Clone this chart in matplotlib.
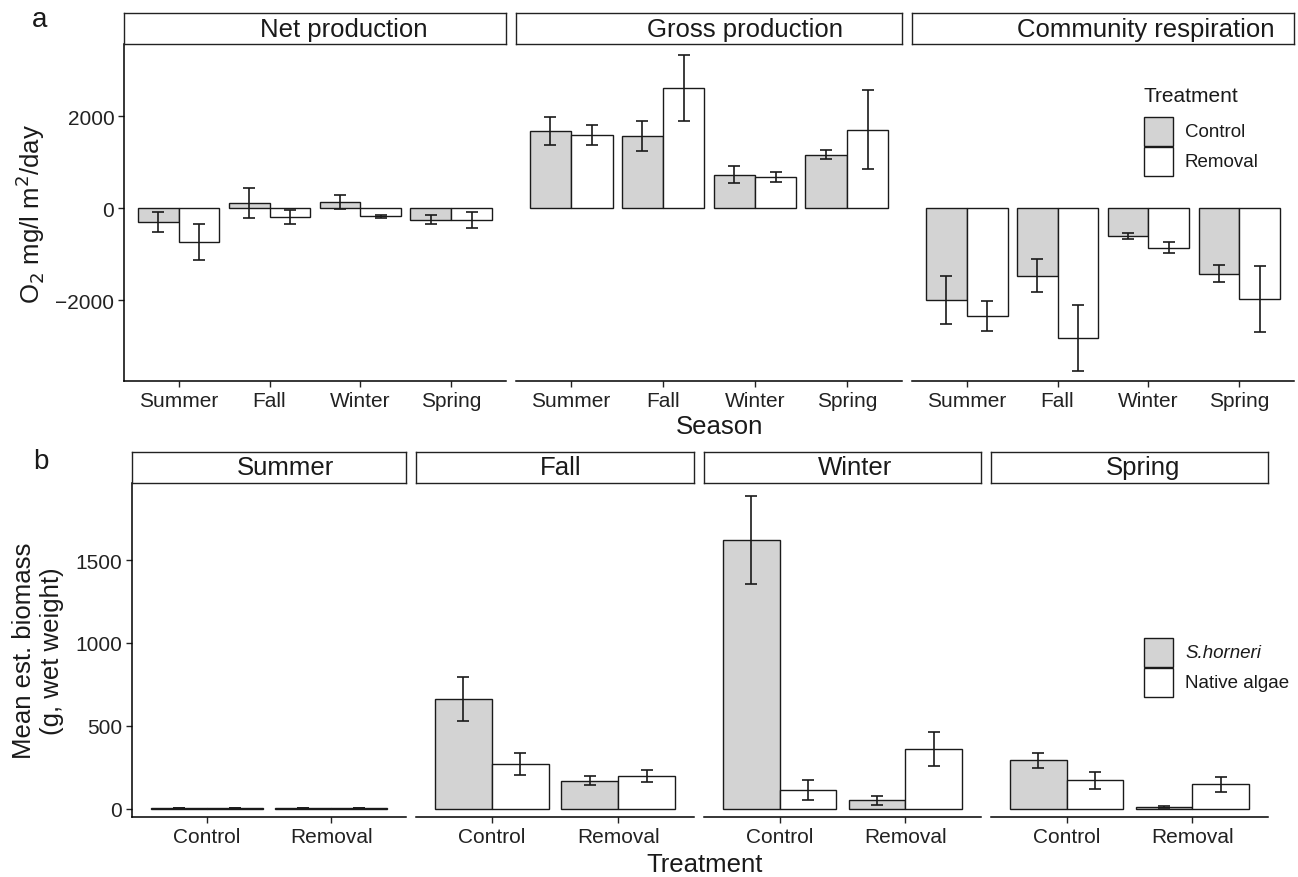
import matplotlib

matplotlib.use("Agg")
import matplotlib.pyplot as plt
from matplotlib.patches import Rectangle

plt.rcParams["font.family"] = ["Liberation Sans", "DejaVu Sans"]

# ---- panel a: oxygen metabolism by season ----
seasons = ["Summer", "Fall", "Winter", "Spring"]
metrics = ["Net production", "Gross production", "Community respiration"]
treatments = ["Control", "Removal"]

net_control = [-304, 109, 138, -254]
net_control_se = [217, 333, 152, 100]
net_removal = [-746, -196, -181, -261]
net_removal_se = [391, 149, 30, 177]

gross_control = [1681, 1572, 732, 1167]
gross_control_se = [308, 326, 185, 105]
gross_removal = [1602, 2616, 674, 1710]
gross_removal_se = [218, 721, 106, 859]

resp_control = [-1993, -1471, -609, -1428]
resp_control_se = [522, 362, 69, 188]
resp_removal = [-2355, -2819, -862, -1978]
resp_removal_se = [326, 721, 123, 710]

# ---- panel b: biomass by treatment within season ----
groups = ["Control", "Removal"]
algae = ["S.horneri", "Native algae"]
horneri = {"Summer": [3, 3], "Fall": [662, 168], "Winter": [1620, 51], "Spring": [292, 8]}
horneri_se = {"Summer": [1, 1], "Fall": [133, 27], "Winter": [266, 27], "Spring": [45, 6]}
native = {"Summer": [4, 4], "Fall": [270, 198], "Winter": [113, 360], "Spring": [171, 147]}
native_se = {"Summer": [1, 1], "Fall": [66, 37], "Winter": [62, 105], "Spring": [51, 45]}

GREY = "#d3d3d3"
W, H = 1298, 878
fig = plt.figure(figsize=(W / 100, H / 100), dpi=100)


def px_axes(l, t, r, b):
    return fig.add_axes([l / W, 1 - b / H, (r - l) / W, (b - t) / H])


def strip(l, t, r, b, label, tx):
    s = px_axes(l, t, r, b)
    s.set_xticks([])
    s.set_yticks([])
    for sp in s.spines.values():
        sp.set_linewidth(1.0)
        sp.set_color("#222222")
    s.text(tx, 0.5, label, ha="center", va="center", fontsize=18.5, color="#1a1a1a",
           transform=s.transAxes)


def style_panel(ax, first):
    for side in ("top", "right"):
        ax.spines[side].set_visible(False)
    ax.spines["bottom"].set_linewidth(1.1)
    ax.spines["left"].set_linewidth(1.1)
    ax.tick_params(axis="x", length=4, width=1.0, labelsize=15, colors="#222222", pad=3)
    ax.tick_params(axis="y", length=4, width=1.0, labelsize=15, colors="#222222", pad=3)
    if not first:
        ax.spines["left"].set_visible(False)
        ax.tick_params(axis="y", left=False, labelleft=False)


def dodge_bars(ax, x, v1, e1, v2, e2):
    w = 0.45
    xs1 = [i - w / 2 for i in x]
    xs2 = [i + w / 2 for i in x]
    ax.bar(xs1, v1, width=w, color=GREY, edgecolor="#1a1a1a", linewidth=1.0, zorder=2)
    ax.bar(xs2, v2, width=w, color="white", edgecolor="#1a1a1a", linewidth=1.0, zorder=2)
    ax.errorbar(xs1, v1, yerr=e1, fmt="none", ecolor="#1a1a1a", elinewidth=1.2,
                capsize=4.5, capthick=1.2, zorder=3)
    ax.errorbar(xs2, v2, yerr=e2, fmt="none", ecolor="#1a1a1a", elinewidth=1.2,
                capsize=4.5, capthick=1.2, zorder=3)


# top row
top_cols = [(124, 506), (516, 902), (912, 1294)]
top_text_x = [0.576, 0.593, 0.613]
top_data = [
    (net_control, net_control_se, net_removal, net_removal_se),
    (gross_control, gross_control_se, gross_removal, gross_removal_se),
    (resp_control, resp_control_se, resp_removal, resp_removal_se),
]
x = list(range(len(seasons)))
for k, ((l, r), metric, d) in enumerate(zip(top_cols, metrics, top_data)):
    ax = px_axes(l, 45, r, 382)
    dodge_bars(ax, x, *d)
    ax.set_xlim(-0.6, 3.6)
    ax.set_ylim(-3761, 3572)
    ax.set_xticks(x)
    ax.set_xticklabels(seasons)
    ax.set_yticks([-2000, 0, 2000])
    ax.set_yticklabels(["\u22122000", "0", "2000"])
    style_panel(ax, k == 0)
    strip(l, 14, r, 45, metric, top_text_x[k])
    if k == 0:
        ax.set_ylabel(r"O$_2$ mg/l m$^2$/day", fontsize=18.5, color="#1a1a1a", labelpad=6)

# bottom row
bot_cols = [(132, 406), (416, 694), (704, 981), (991, 1268)]
bot_text_x = [0.56, 0.52, 0.545, 0.547]
xb = list(range(len(groups)))
for k, ((l, r), s) in enumerate(zip(bot_cols, seasons)):
    ax = px_axes(l, 484, r, 818)
    dodge_bars(ax, xb, horneri[s], horneri_se[s], native[s], native_se[s])
    ax.set_xlim(-0.6, 1.6)
    ax.set_ylim(-51, 1965)
    ax.set_xticks(xb)
    ax.set_xticklabels(groups)
    ax.set_yticks([0, 500, 1000, 1500])
    style_panel(ax, k == 0)
    strip(l, 453, r, 484, s, bot_text_x[k])
    if k == 0:
        ax.set_ylabel("Mean est. biomass\n(g, wet weight)", fontsize=18.5, color="#1a1a1a",
                      labelpad=8, linespacing=1.2)

# overlay for labels and legends
ov = fig.add_axes([0, 0, 1, 1], zorder=10)
ov.set_xlim(0, W)
ov.set_ylim(H, 0)
ov.axis("off")
ov.text(40, 20, "a", fontsize=20, ha="center", va="center", color="#1a1a1a")
ov.text(41, 462, "b", fontsize=20, ha="center", va="center", color="#1a1a1a")
ov.text(720, 427, "Season", fontsize=18.5, ha="center", va="center", color="#1a1a1a")
ov.text(705, 865, "Treatment", fontsize=18.5, ha="center", va="center", color="#1a1a1a")

# legend a
ov.text(1144, 97, "Treatment", fontsize=15, ha="left", va="center", color="#1a1a1a")
for i, (lab, col) in enumerate(zip(treatments, [GREY, "white"])):
    y0 = 118 + i * 30
    ov.add_patch(Rectangle((1144, y0), 29, 29, facecolor=col, edgecolor="#1a1a1a", linewidth=1.0))
    ov.text(1185, y0 + 14.5, lab, fontsize=13.5, ha="left", va="center", color="#1a1a1a")

# legend b
for i, (lab, col) in enumerate(zip(algae, [GREY, "white"])):
    y0 = 639 + i * 30
    ov.add_patch(Rectangle((1144, y0), 29, 29, facecolor=col, edgecolor="#1a1a1a", linewidth=1.0))
    ov.text(1185, y0 + 14.5, lab, fontsize=13.5, ha="left", va="center", color="#1a1a1a",
            style="italic" if i == 0 else "normal")

fig.savefig("out.png", dpi=100)
